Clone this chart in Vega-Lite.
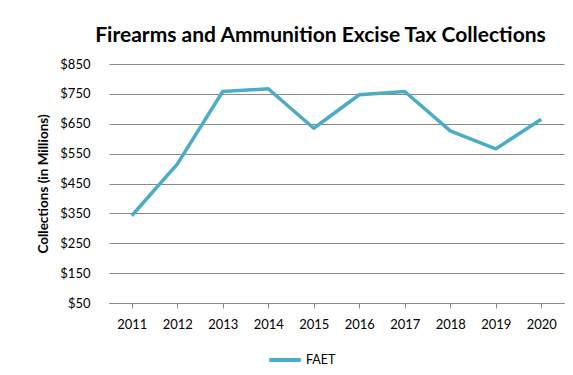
{
  "$schema": "https://vega.github.io/schema/vega-lite/v6.json",
  "width": 455,
  "height": 239,
  "autosize": {"type": "none"},
  "padding": {"left": 109, "top": 64, "right": 9, "bottom": 72},
  "background": "white",
  "title": {
    "text": "Firearms and Ammunition Excise Tax Collections",
    "font": "Lato",
    "fontSize": 21,
    "fontWeight": "bold",
    "color": "#000000",
    "anchor": "middle",
    "dx": -16,
    "offset": 12
  },
  "data": {
    "values": [
      {"year": "2011", "value": 342, "series": "FAET"},
      {"year": "2012", "value": 515, "series": "FAET"},
      {"year": "2013", "value": 758, "series": "FAET"},
      {"year": "2014", "value": 767, "series": "FAET"},
      {"year": "2015", "value": 635, "series": "FAET"},
      {"year": "2016", "value": 747, "series": "FAET"},
      {"year": "2017", "value": 758, "series": "FAET"},
      {"year": "2018", "value": 626, "series": "FAET"},
      {"year": "2019", "value": 566, "series": "FAET"},
      {"year": "2020", "value": 665, "series": "FAET"}
    ]
  },
  "mark": {"type": "line", "strokeWidth": 3.5, "strokeJoin": "round"},
  "encoding": {
    "x": {
      "field": "year",
      "type": "ordinal",
      "scale": {"type": "point", "padding": 0.5},
      "axis": {
        "title": null,
        "labelAngle": 0,
        "labelFont": "Lato",
        "labelFontSize": 13,
        "labelColor": "#000000",
        "labelPadding": 10,
        "tickSize": 5,
        "tickColor": "#898989",
        "domainColor": "#898989",
        "grid": false
      }
    },
    "y": {
      "field": "value",
      "type": "quantitative",
      "scale": {"domain": [50, 850], "nice": false, "zero": false},
      "axis": {
        "values": [50, 150, 250, 350, 450, 550, 650, 750, 850],
        "format": "$.0f",
        "title": "Collections  (in Millions)",
        "titleFont": "Lato",
        "titleFontSize": 13.5,
        "titleFontWeight": "bold",
        "titleColor": "#000000",
        "titlePadding": 9,
        "labelFont": "Lato",
        "labelFontSize": 13,
        "labelColor": "#000000",
        "labelPadding": 19,
        "ticks": false,
        "domain": false,
        "grid": true,
        "gridColor": "#898989",
        "gridWidth": 1
      }
    },
    "color": {
      "field": "series",
      "type": "nominal",
      "scale": {"range": ["#4BACC6"]},
      "legend": {
        "title": null,
        "orient": "none",
        "legendX": 158,
        "legendY": 278,
        "symbolType": "stroke",
        "symbolSize": 1000,
        "symbolStrokeWidth": 4,
        "labelFont": "Lato",
        "labelFontSize": 12.5,
        "labelColor": "#000000",
        "labelOffset": 3
      }
    }
  },
  "config": {
    "view": {"stroke": null}
  }
}
